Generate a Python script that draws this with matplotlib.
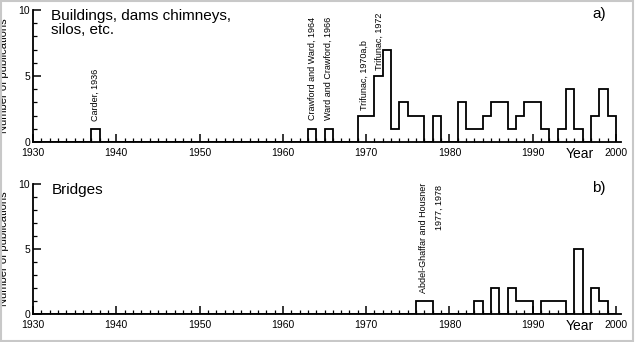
import matplotlib
matplotlib.use("Agg")
import matplotlib.pyplot as plt
import numpy as np
from matplotlib.ticker import MultipleLocator
from matplotlib.patches import Rectangle

plt.rcParams['font.family'] = ['Liberation Sans', 'DejaVu Sans']

# publications per year (years not listed are zero)
bld_years = [1937, 1963, 1965, 1969, 1970, 1971, 1972, 1973, 1974, 1975, 1976,
             1978, 1981, 1982, 1983, 1984, 1985, 1986, 1987, 1988, 1989, 1990,
             1991, 1993, 1994, 1995, 1997, 1998, 1999]
bld_counts = [1, 1, 1, 2, 2, 5, 7, 1, 3, 2, 2,
              2, 3, 1, 1, 2, 3, 3, 1, 2, 3, 3,
              1, 1, 4, 1, 2, 4, 2]

brg_years = [1976, 1977, 1983, 1985, 1987, 1988, 1989, 1991, 1992, 1993, 1995, 1997, 1998]
brg_counts = [1, 1, 1, 2, 2, 1, 1, 1, 1, 1, 5, 2, 1]

bld_notes = [("Carder, 1936", 1937.5, 1.6),
             ("Crawford and Ward, 1964", 1963.55, 1.65),
             ("Ward and Crawford, 1966", 1965.5, 1.65),
             ("Trifunac, 1970a,b", 1969.75, 2.4),
             ("Trifunac, 1972", 1971.55, 5.45)]

edges = np.arange(1930, 2001)


def to_series(years, counts):
    vals = np.zeros(len(edges) - 1)
    for y, c in zip(years, counts):
        vals[y - 1930] = c
    return vals


def setup_axis(ax):
    ax.set_xlim(1930, 2000.6)
    ax.set_ylim(0, 10)
    for s in ['top', 'right']:
        ax.spines[s].set_visible(False)
    for s in ['left', 'bottom']:
        ax.spines[s].set_linewidth(1.3)
    ax.xaxis.set_major_locator(MultipleLocator(10))
    ax.xaxis.set_minor_locator(MultipleLocator(1))
    ax.yaxis.set_major_locator(MultipleLocator(5))
    ax.yaxis.set_minor_locator(MultipleLocator(1))
    ax.tick_params(which='major', direction='in', length=6, width=1.1, labelsize=7.5)
    ax.tick_params(axis='x', which='major', pad=4.5)
    ax.tick_params(axis='y', which='major', pad=2)
    ax.tick_params(which='minor', direction='in', length=3, width=0.9)
    ax.set_ylabel("Number of publications", fontsize=8)
    ax.yaxis.set_label_coords(-0.04, 0.5)
    ax.text(0.93, -0.035, "Year", transform=ax.transAxes, fontsize=10, ha='center', va='top')


fig = plt.figure(figsize=(6.36, 3.42), dpi=100)
ax1 = fig.add_axes([33 / 636, 200 / 342, 588 / 636, 132 / 342])
ax2 = fig.add_axes([33 / 636, 28 / 342, 588 / 636, 130 / 342])

for ax in (ax1, ax2):
    setup_axis(ax)

ax1.stairs(to_series(bld_years, bld_counts), edges, baseline=0, fill=False,
           color='black', linewidth=1.3)
ax2.stairs(to_series(brg_years, brg_counts), edges, baseline=0, fill=False,
           color='black', linewidth=1.3)

ax1.text(1932.2, 10.1, "Buildings, dams chimneys,\nsilos, etc.", fontsize=11,
         va='top', ha='left', linespacing=1.05)
ax1.text(0.963, 1.02, "a)", transform=ax1.transAxes, fontsize=11, va='top', ha='center')
ax2.text(1932.2, 10.1, "Bridges", fontsize=11, va='top', ha='left')
ax2.text(0.963, 1.02, "b)", transform=ax2.transAxes, fontsize=11, va='top', ha='center')

for label, x, y in bld_notes:
    ax1.text(x, y, label, rotation=90, fontsize=6.5, ha='center', va='bottom')

ax2.text(1976.9, 1.6, "Abdel-Ghaffar and Housner", rotation=90, fontsize=6.5,
         ha='center', va='bottom')
ax2.text(1978.8, 9.9, "1977, 1978", rotation=90, fontsize=6.5, ha='center', va='top')

fig.patches.append(Rectangle((0.002, 0.003), 0.993, 0.995, transform=fig.transFigure,
                             fill=False, edgecolor='#c8c8c8', linewidth=1.5))

fig.savefig("out.png", dpi=100)
